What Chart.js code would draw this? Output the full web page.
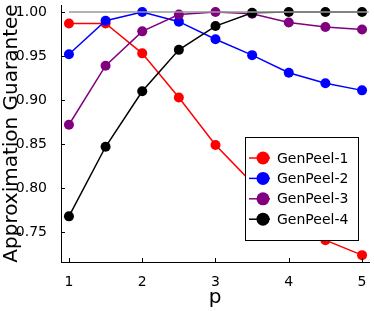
<!DOCTYPE html>
<html>
<head>
<meta charset="utf-8">
<script src="https://cdn.jsdelivr.net/npm/chart.js@4"></script>
<style>
  html, body { margin: 0; padding: 0; background: #fff; }
  #wrap { width: 374px; height: 311px; position: relative; }
</style>
</head>
<body>
<div id="wrap"><canvas id="chart"></canvas></div>
<script>
// data
const pValues = [1, 1.5, 2, 2.5, 3, 3.5, 4, 4.5, 5]
const genPeel1 = [0.987, 0.987, 0.953, 0.903, 0.849, 0.806, 0.772, 0.741, 0.724]
const genPeel2 = [0.952, 0.990, 1.000, 0.989, 0.969, 0.951, 0.931, 0.919, 0.911]
const genPeel3 = [0.872, 0.939, 0.978, 0.997, 1.000, 0.998, 0.988, 0.983, 0.980]
const genPeel4 = [0.768, 0.847, 0.910, 0.957, 0.984, 0.999, 1.000, 1.000, 1.000]
const refX = [1, 5.09]
const refY = [1, 1]
const seriesNames = ['GenPeel-1', 'GenPeel-2', 'GenPeel-3', 'GenPeel-4']
const seriesColors = ['#ff0000', '#0000ff', '#800080', '#000000']
const xTicks = [1, 2, 3, 4, 5]
const yTicks = [0.75, 0.80, 0.85, 0.90, 0.95, 1.00]

const font = 'DejaVu Sans'
const allSeries = [genPeel1, genPeel2, genPeel3, genPeel4]

function toPoints(xs, ys) {
    return xs.map((x, i) => ({x: x, y: ys[i]}))
}

const datasets = allSeries.map((ys, i) => ({
    label: seriesNames[i],
    data: toPoints(pValues, ys),
    borderColor: seriesColors[i],
    backgroundColor: seriesColors[i],
    borderWidth: 1.5,
    pointRadius: 5,
    pointBorderWidth: 0,
    pointHoverRadius: 5,
    order: 4 - i
}))
datasets.push({
    label: 'ref',
    data: toPoints(refX, refY),
    borderColor: '#999999',
    borderWidth: 1.5,
    pointRadius: 0,
    order: 0
})

// little inward tick marks, like the original plot
const innerTicks = {
    id: 'innerTicks',
    afterDraw(chart) {
        const ctx = chart.ctx
        const a = chart.chartArea
        const xs = chart.scales.x, ys = chart.scales.y
        ctx.save()
        ctx.strokeStyle = '#000'
        ctx.lineWidth = 1
        ctx.beginPath()
        for (const t of xs.ticks) {
            const px = Math.round(xs.getPixelForValue(t.value)) + 0.5
            ctx.moveTo(px, a.bottom)
            ctx.lineTo(px, a.bottom - 4)
        }
        for (const t of ys.ticks) {
            const py = Math.round(ys.getPixelForValue(t.value)) + 0.5
            ctx.moveTo(a.left, py)
            ctx.lineTo(a.left + 4, py)
        }
        ctx.stroke()
        ctx.restore()
    }
}

// boxed legend inside the plot, lower right
const boxLegend = {
    id: 'boxLegend',
    afterDraw(chart) {
        const ctx = chart.ctx
        const a = chart.chartArea
        const w = 113, h = 103
        const left = a.right - 11 - w
        const top = a.top + 132
        ctx.save()
        ctx.fillStyle = '#fff'
        ctx.fillRect(left, top, w, h)
        ctx.strokeStyle = '#000'
        ctx.lineWidth = 1
        ctx.strokeRect(left + 0.5, top + 0.5, w, h)
        ctx.font = '14px "' + font + '"'
        ctx.textBaseline = 'middle'
        seriesNames.forEach((name, i) => {
            const y = top + 21 + i * 20.4
            ctx.strokeStyle = seriesColors[i]
            ctx.lineWidth = 1.5
            ctx.beginPath()
            ctx.moveTo(left + 4, y)
            ctx.lineTo(left + 25, y)
            ctx.stroke()
            ctx.fillStyle = seriesColors[i]
            ctx.beginPath()
            ctx.arc(left + 18, y, 6.5, 0, Math.PI * 2)
            ctx.fill()
            ctx.fillStyle = '#000'
            ctx.fillText(name, left + 32, y + 1)
        })
        ctx.restore()
    }
}

const chart = new Chart(document.getElementById('chart').getContext('2d'), {
    type: 'line',
    data: { datasets: datasets },
    options: {
        responsive: true,
        maintainAspectRatio: false,
        animation: false,
        layout: { padding: { top: 3, right: 3, left: 0, bottom: 0 } },
        plugins: {
            legend: { display: false },
            tooltip: { enabled: false }
        },
        scales: {
            x: {
                type: 'linear',
                min: 0.8915,
                max: 5.095,
                afterBuildTicks: s => { s.ticks = xTicks.map(v => ({value: v})) },
                afterFit: s => { s.height = 49; s.paddingLeft = 0; s.paddingRight = 0 },
                grid: { display: false },
                border: { display: true, color: '#000', width: 1 },
                ticks: { color: '#000', padding: 4, font: { family: font, size: 14 } },
                title: {
                    display: true, text: 'p', color: '#000',
                    font: { family: font, size: 20 },
                    padding: { top: 0, bottom: 1 }
                }
            },
            y: {
                type: 'linear',
                min: 0.7162,
                max: 1.0079,
                afterBuildTicks: s => { s.ticks = yTicks.map(v => ({value: v})) },
                afterFit: s => { s.width = 61; s.paddingTop = 0; s.paddingBottom = 0 },
                grid: { display: false },
                border: { display: true, color: '#000', width: 1 },
                ticks: {
                    color: '#000', padding: 6,
                    font: { family: font, size: 14 },
                    callback: v => v.toFixed(2)
                },
                title: {
                    display: true, text: 'Approximation Guarantee', color: '#000',
                    font: { family: font, size: 20 },
                    padding: 0
                }
            }
        }
    },
    plugins: [innerTicks, boxLegend]
})
</script>
</body>
</html>
